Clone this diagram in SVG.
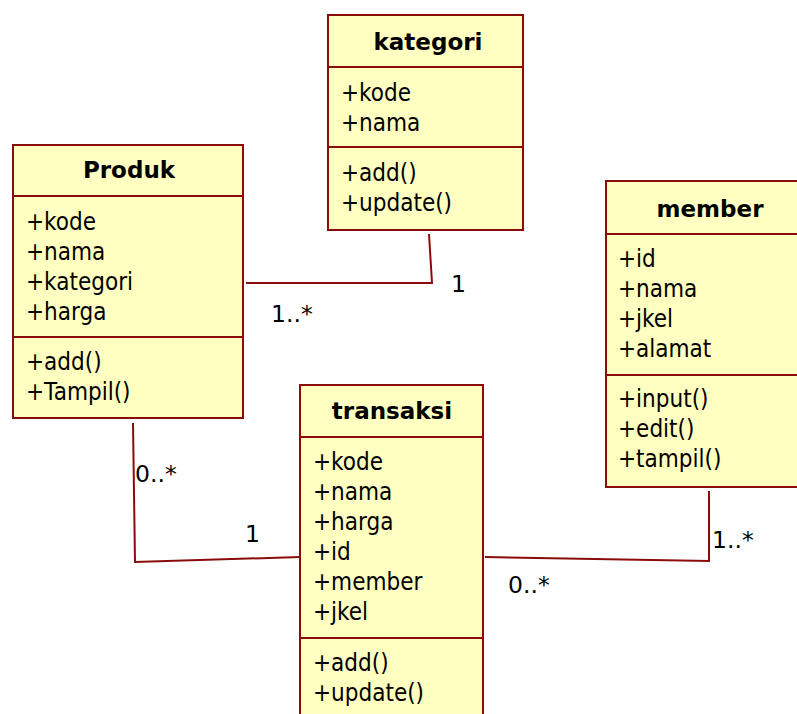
<svg xmlns="http://www.w3.org/2000/svg" width="797" height="714" viewBox="0 0 797 714">
  <style>
    .box { fill: #FFFFC1; stroke: #8B0A0A; stroke-width: 2; }
    .div { stroke: #8B0A0A; stroke-width: 2; }
    .title { font-family: "DejaVu Sans", Verdana, sans-serif; font-size: 23px; font-weight: bold; fill: #000; text-anchor: middle; }
    .item { font-family: "DejaVu Sans", Verdana, sans-serif; font-size: 24px; fill: #000; }
    .edge { fill: none; stroke: #8B0A0A; stroke-width: 2; }
    .mult { font-family: "DejaVu Sans", Verdana, sans-serif; font-size: 23.5px; fill: #000; }
  </style>
  <rect width="797" height="714" fill="#FFFFFF"/>

  <!-- associations -->
  <g id="connectors">
    <polyline class="edge" points="246,283 432,283 429,234"/>
    <polyline class="edge" points="133,423 135,562 300,557"/>
    <polyline class="edge" points="485,557 709,561 709,491"/>
    <text class="mult" x="451" y="292">1</text>
    <text class="mult" x="271" y="322">1..*</text>
    <text class="mult" x="135" y="482">0..*</text>
    <text class="mult" x="245" y="542">1</text>
    <text class="mult" x="712" y="548">1..*</text>
    <text class="mult" x="508" y="593">0..*</text>
  </g>

  <!-- member lists use a slightly narrowed face -->
  <g id="kategori">
    <rect class="box" x="328" y="15" width="195" height="215"/>
    <line class="div" x1="328" y1="67" x2="523" y2="67"/>
    <line class="div" x1="328" y1="147" x2="523" y2="147"/>
    <text class="title" x="428" y="50">kategori</text>
    <g transform="translate(341,0) scale(0.9,1)">
      <text class="item" x="0" y="101">+kode</text>
      <text class="item" x="0" y="131">+nama</text>
      <text class="item" x="0" y="181">+add()</text>
      <text class="item" x="0" y="211">+update()</text>
    </g>
  </g>

  <g id="produk">
    <rect class="box" x="13" y="145" width="230" height="273"/>
    <line class="div" x1="13" y1="196" x2="243" y2="196"/>
    <line class="div" x1="13" y1="337" x2="243" y2="337"/>
    <text class="title" x="129" y="178">Produk</text>
    <g transform="translate(26,0) scale(0.9,1)">
      <text class="item" x="0" y="230">+kode</text>
      <text class="item" x="0" y="260">+nama</text>
      <text class="item" x="0" y="290">+kategori</text>
      <text class="item" x="0" y="320">+harga</text>
      <text class="item" x="0" y="370">+add()</text>
      <text class="item" x="0" y="400">+Tampil()</text>
    </g>
  </g>

  <g id="member">
    <rect class="box" x="606" y="181" width="206" height="306"/>
    <line class="div" x1="606" y1="234" x2="812" y2="234"/>
    <line class="div" x1="606" y1="375" x2="812" y2="375"/>
    <text class="title" x="710" y="217">member</text>
    <g transform="translate(618,0) scale(0.9,1)">
      <text class="item" x="0" y="267">+id</text>
      <text class="item" x="0" y="297">+nama</text>
      <text class="item" x="0" y="327">+jkel</text>
      <text class="item" x="0" y="357">+alamat</text>
      <text class="item" x="0" y="407">+input()</text>
      <text class="item" x="0" y="437">+edit()</text>
      <text class="item" x="0" y="467">+tampil()</text>
    </g>
  </g>

  <g id="transaksi">
    <rect class="box" x="300" y="385" width="183" height="340"/>
    <line class="div" x1="300" y1="437" x2="483" y2="437"/>
    <line class="div" x1="300" y1="638" x2="483" y2="638"/>
    <text class="title" x="392" y="419">transaksi</text>
    <g transform="translate(313,0) scale(0.9,1)">
      <text class="item" x="0" y="470">+kode</text>
      <text class="item" x="0" y="500">+nama</text>
      <text class="item" x="0" y="530">+harga</text>
      <text class="item" x="0" y="560">+id</text>
      <text class="item" x="0" y="590">+member</text>
      <text class="item" x="0" y="620">+jkel</text>
      <text class="item" x="0" y="671">+add()</text>
      <text class="item" x="0" y="701">+update()</text>
    </g>
  </g>
</svg>
